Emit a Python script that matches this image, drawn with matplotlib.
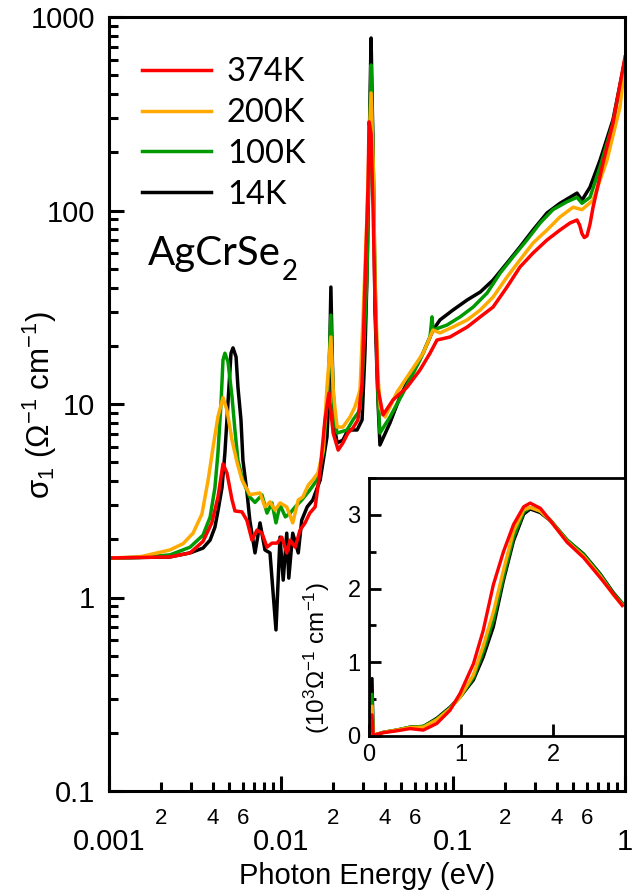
"""
Optical conductivity of AgCrSe2 at four temperatures.
Main panel: log-log far-IR to near-IR; inset: linear scale up to 2.8 eV.
"""
import numpy as np
import matplotlib
matplotlib.use('Agg')
import matplotlib.pyplot as plt
from matplotlib.ticker import LogLocator, FuncFormatter, NullFormatter, MultipleLocator

plt.rcParams['font.family'] = ['Liberation Sans', 'DejaVu Sans']
plt.rcParams['mathtext.fontset'] = 'custom'
plt.rcParams['mathtext.rm'] = 'Liberation Sans'
plt.rcParams['mathtext.it'] = 'Liberation Sans:italic'
plt.rcParams['mathtext.bf'] = 'Liberation Sans:bold'

temps = ['374K', '200K', '100K', '14K']
colors = {'374K': '#ff0000', '200K': '#ffaa00', '100K': '#009900', '14K': '#000000'}

# sigma_1 (ohm^-1 cm^-1) vs photon energy (eV)
e_14 = [0.001, 0.0015, 0.00226, 0.00296, 0.00352, 0.00387, 0.00413, 0.0043, 0.00454, 0.00472,
        0.00485, 0.00498, 0.00512, 0.00526, 0.00548, 0.00562, 0.00585, 0.00601, 0.00634, 0.00659,
        0.00706, 0.00755, 0.00807, 0.00863, 0.00935, 0.00987, 0.0103, 0.0108, 0.0111, 0.0117,
        0.0126, 0.0132, 0.0142, 0.0153, 0.0169, 0.0185, 0.0190, 0.0195, 0.0200, 0.0206,
        0.0212, 0.0229, 0.0245, 0.0277, 0.0296, 0.0308, 0.0316, 0.0321, 0.0329, 0.0334,
        0.0343, 0.0352, 0.0366, 0.0376, 0.0430, 0.0492, 0.0562, 0.0670, 0.0765, 0.0840,
        0.100, 0.121, 0.144, 0.171, 0.206, 0.245, 0.292, 0.352, 0.419, 0.526,
        0.562, 0.626, 0.716, 0.851, 1.0]
s_14 = [1.60, 1.61, 1.62, 1.70, 1.80, 1.98, 2.31, 2.80, 3.70, 5.6,
        8.3, 12.2, 18.3, 19.5, 17.5, 12.2, 8.3, 5.1, 3.5, 2.5,
        1.70, 2.43, 1.76, 1.70, 0.68, 2.05, 1.23, 2.15, 1.26, 2.15,
        1.70, 2.51, 2.94, 3.19, 4.05, 6.75, 11.0, 40.2, 13.0, 7.3,
        6.29, 6.51, 7.34, 7.34, 8.27, 19.0, 45, 92.6, 370, 779,
        200, 30, 10.5, 6.14, 7.98, 10.9, 13.8, 18.3, 24.1, 27.2,
        30.6, 34.5, 37.9, 43.7, 53.5, 64.8, 79.3, 97.1, 109, 123,
        113, 132, 182, 294, 600]

e_100 = [0.001, 0.0015, 0.00226, 0.00296, 0.00352, 0.00387, 0.00413, 0.0043, 0.00448, 0.0046,
         0.00472, 0.00492, 0.00519, 0.0054, 0.00562, 0.00601, 0.00659, 0.00706, 0.00775, 0.00829,
         0.00886, 0.00935, 0.00987, 0.0106, 0.0113, 0.0121, 0.0132, 0.0147, 0.0162, 0.0176,
         0.0188, 0.0195, 0.0201, 0.0206, 0.0212, 0.0242, 0.0262, 0.0288, 0.0300, 0.0316,
         0.0321, 0.0329, 0.0334, 0.0343, 0.0352, 0.0366, 0.0376, 0.0430, 0.0512, 0.0643,
         0.0735, 0.0755, 0.0765, 0.0923, 0.110, 0.131, 0.158, 0.188, 0.223, 0.269,
         0.321, 0.381, 0.460, 0.526, 0.562, 0.626, 0.716, 0.851, 1.0]
s_100 = [1.60, 1.61, 1.66, 1.82, 2.10, 2.60, 3.70, 5.6, 10.1, 16.9,
         18.3, 16.5, 10.9, 7.3, 5.1, 4.0, 3.3, 3.1, 3.39, 2.73,
         3.08, 2.43, 3.01, 2.61, 2.73, 2.94, 3.19, 3.59, 4.05, 5.58,
         12.2, 28.8, 11.0, 8.0, 7.08, 7.34, 8.27, 9.31, 16.0, 45,
         100, 300, 565, 200, 45, 11, 7.08, 8.57, 11.4, 16.9,
         22.2, 28.2, 24.1, 25.6, 28.2, 31.7, 37.5, 47.5, 57.5, 70.4,
         86.2, 101, 111, 117, 109, 117, 168, 283, 600]

e_200 = [0.001, 0.0015, 0.00226, 0.0027, 0.00308, 0.00347, 0.00377, 0.00403, 0.0043, 0.0046,
         0.00485, 0.00519, 0.00555, 0.00593, 0.00659, 0.00755, 0.00807, 0.00863, 0.00923, 0.00987,
         0.0108, 0.0117, 0.0126, 0.0134, 0.0144, 0.0153, 0.0164, 0.0176, 0.0185, 0.0195,
         0.0201, 0.0206, 0.0212, 0.0229, 0.0252, 0.0269, 0.0288, 0.0300, 0.0316, 0.0325,
         0.0334, 0.0343, 0.0352, 0.0366, 0.0378, 0.0403, 0.0472, 0.0562, 0.0670, 0.0765,
         0.0840, 0.100, 0.121, 0.144, 0.171, 0.206, 0.245, 0.292, 0.352, 0.419,
         0.499, 0.562, 0.652, 0.786, 0.935, 1.0]
s_200 = [1.60, 1.62, 1.76, 1.90, 2.15, 2.70, 4.05, 6.0, 8.6, 10.8,
         9.3, 6.5, 5.0, 4.05, 3.40, 3.47, 2.94, 3.12, 2.83, 3.08,
         2.94, 2.43, 3.19, 3.31, 3.81, 4.05, 4.40, 5.78, 12.2, 22.2,
         12.0, 9.5, 7.60, 7.60, 8.57, 9.66, 11.8, 28.2, 92.6, 220,
         405, 180, 45, 14, 9.5, 8.57, 11.5, 14.5, 18.3, 24.1,
         23.3, 25.0, 27.2, 30.6, 35.7, 45.3, 55.5, 67.9, 79.3, 92.6,
         104, 101, 113, 182, 343, 580]

e_374 = [0.001, 0.0015, 0.00226, 0.00296, 0.00352, 0.00396, 0.0043, 0.0046, 0.00485, 0.00519,
         0.0054, 0.00593, 0.00634, 0.00678, 0.00725, 0.00775, 0.00829, 0.00886, 0.00948, 0.0101,
         0.0108, 0.0113, 0.0121, 0.0129, 0.0138, 0.0147, 0.0158, 0.0169, 0.0180, 0.0190,
         0.0201, 0.0215, 0.0229, 0.0245, 0.0262, 0.0280, 0.0296, 0.0308, 0.0321, 0.0325,
         0.0334, 0.0343, 0.0352, 0.0366, 0.0392, 0.0448, 0.0540, 0.0643, 0.0735, 0.0807,
         0.0961, 0.121, 0.144, 0.171, 0.206, 0.245, 0.292, 0.352, 0.419, 0.479,
         0.526, 0.545, 0.562, 0.580, 0.601, 0.626, 0.652, 0.745, 0.851, 1.0]
s_374 = [1.60, 1.61, 1.62, 1.70, 1.95, 2.43, 3.30, 4.90, 4.40, 3.20,
         2.80, 2.77, 2.50, 1.98, 2.23, 2.15, 1.82, 1.91, 1.91, 2.05,
         1.70, 1.98, 1.82, 2.23, 2.43, 2.73, 2.94, 4.56, 8.27, 11.4,
         7.08, 5.78, 6.29, 7.08, 7.52, 8.27, 12.8, 42.2, 139, 287,
         250, 100, 35, 12, 8.78, 10.5, 12.2, 15.0, 18.3, 21.4,
         22.2, 25.0, 28.2, 31.7, 40.2, 51.0, 60.3, 70.4, 79.3, 86.2,
         89.3, 84.0, 76.0, 72.5, 74.0, 85.0, 104, 176, 283, 621]

# inset: sigma_1 in 10^3 ohm^-1 cm^-1, linear energy axis
inset_e = [0, 0.033, 0.045, 0.156, 0.30, 0.446, 0.59, 0.736, 0.88, 0.99, 1.134, 1.24,
           1.35, 1.46, 1.57, 1.68, 1.75, 1.86, 1.97, 2.15, 2.33, 2.51, 2.65, 2.75]
inset_14 = [0.0016, 0.779, 0.008, 0.05, 0.08, 0.12, 0.13, 0.24, 0.39, 0.53, 0.76, 1.07,
            1.48, 2.11, 2.65, 3.01, 3.08, 3.03, 2.92, 2.66, 2.47, 2.20, 1.95, 1.80]
inset_100 = [0.0016, 0.565, 0.008, 0.05, 0.08, 0.12, 0.13, 0.23, 0.38, 0.53, 0.79, 1.14,
             1.57, 2.16, 2.70, 3.04, 3.10, 3.05, 2.93, 2.66, 2.46, 2.19, 1.94, 1.80]
inset_200 = [0.0016, 0.405, 0.008, 0.05, 0.08, 0.115, 0.12, 0.22, 0.37, 0.53, 0.83, 1.22,
             1.68, 2.25, 2.78, 3.07, 3.10, 3.05, 2.92, 2.64, 2.44, 2.17, 1.92, 1.78]
inset_374 = [0.0016, 0.287, 0.009, 0.045, 0.07, 0.10, 0.08, 0.17, 0.35, 0.58, 0.98, 1.43,
             2.05, 2.50, 2.87, 3.11, 3.16, 3.09, 2.92, 2.63, 2.42, 2.15, 1.93, 1.77]

main_data = {'14K': (e_14, s_14), '100K': (e_100, s_100),
             '200K': (e_200, s_200), '374K': (e_374, s_374)}
inset_data = {'14K': inset_14, '100K': inset_100, '200K': inset_200, '374K': inset_374}
draw_order = ['14K', '100K', '200K', '374K']

fig = plt.figure(figsize=(6.35, 8.92), dpi=100)
ax = fig.add_axes([109 / 635, 101 / 892, 516 / 635, 774 / 892])

lines = {}
for t in draw_order:
    e, s = main_data[t]
    lines[t], = ax.plot(e, s, color=colors[t], lw=2.5)

ax.set_xscale('log')
ax.set_yscale('log')
ax.set_xlim(1e-3, 1)
ax.set_ylim(0.1, 1000)

for sp in ax.spines.values():
    sp.set_linewidth(2.2)

ax.xaxis.set_minor_locator(LogLocator(base=10, subs=np.arange(2, 10), numticks=20))
ax.yaxis.set_minor_locator(LogLocator(base=10, subs=np.arange(2, 10), numticks=20))
ax.xaxis.set_major_formatter(FuncFormatter(lambda v, p: f'{v:g}'))
ax.yaxis.set_major_formatter(FuncFormatter(lambda v, p: f'{v:g}'))


def minor_label(v, pos):
    m = int(round(v / 10 ** np.floor(np.log10(v) + 1e-9)))
    return str(m) if m in (2, 4, 6) else ''


ax.xaxis.set_minor_formatter(FuncFormatter(minor_label))
ax.yaxis.set_minor_formatter(NullFormatter())

ax.tick_params(which='both', direction='in', top=False, right=False, width=2.2)
ax.tick_params(which='major', length=11, labelsize=21)
ax.tick_params(which='minor', length=6.5, labelsize=16)
ax.tick_params(axis='y', which='major', pad=10)
ax.tick_params(axis='x', which='major', pad=27)
ax.tick_params(axis='x', which='minor', pad=12)

fig.text(40 / 635, 1 - 405 / 892, r'$\mathregular{\sigma_1\ (\Omega^{-1}\ cm^{-1})}$',
         rotation=90, ha='center', va='center', fontsize=22.5)
fig.text(367 / 635, 1 - 884 / 892, 'Photon Energy (eV)', ha='center', va='baseline', fontsize=21)

leg = ax.legend([lines[t] for t in temps], temps, loc='upper left',
                bbox_to_anchor=(0.064, 0.948), frameon=False,
                prop={'family': 'Lato', 'size': 23.5}, handlelength=2.1,
                handletextpad=0.5, labelspacing=0.33, borderpad=0, borderaxespad=0)

name = ax.text(0.075, 0.680, 'AgCrSe', transform=ax.transAxes, fontsize=29,
               family='Lato', ha='left', va='baseline')
ax.annotate('2', xy=(1, 0), xycoords=name, xytext=(1, -6), textcoords='offset points',
            fontsize=20, family='Lato', ha='left', va='baseline')

# inset
axin = fig.add_axes([369 / 635, 156 / 892, 256 / 635, 258 / 892])
axin.set_facecolor('white')
for t in draw_order:
    axin.plot(inset_e, inset_data[t], color=colors[t], lw=2.4)
axin.set_xlim(0, 2.78)
axin.set_ylim(0, 3.5)
axin.xaxis.set_major_locator(MultipleLocator(1))
axin.yaxis.set_major_locator(MultipleLocator(1))
axin.yaxis.set_minor_locator(MultipleLocator(0.5))
axin.tick_params(which='both', direction='in', top=False, right=False, width=2, labelsize=17)
axin.tick_params(which='major', length=8.5, pad=6)
axin.tick_params(which='minor', length=5)
for sp in axin.spines.values():
    sp.set_linewidth(2)

fig.text(317 / 635, 1 - 658 / 892, r'$\mathregular{(10^3\Omega^{-1}\ cm^{-1})}$',
         rotation=90, ha='center', va='center', fontsize=17.5)

fig.savefig('out.png', dpi=100)
